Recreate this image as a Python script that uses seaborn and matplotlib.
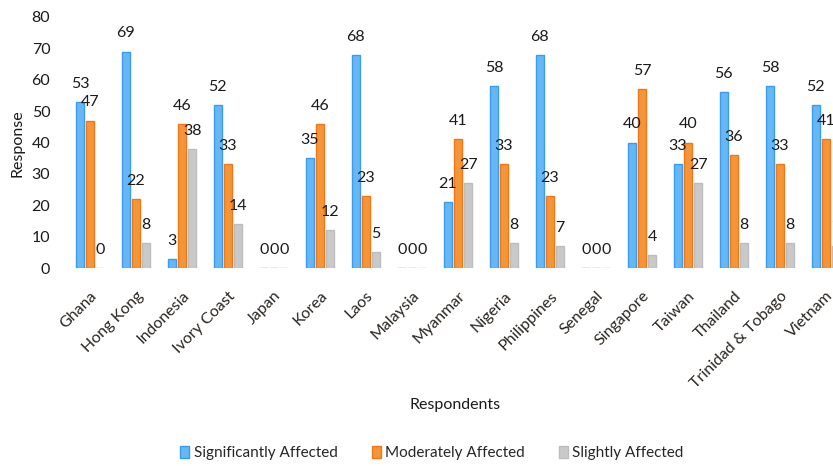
import numpy as np
import pandas as pd
import matplotlib
matplotlib.use("Agg")
import matplotlib.pyplot as plt
import seaborn as sns

countries = ["Ghana", "Hong Kong", "Indonesia", "Ivory Coast", "Japan", "Korea", "Laos",
             "Malaysia", "Myanmar", "Nigeria", "Philippines", "Senegal", "Singapore",
             "Taiwan", "Thailand", "Trinidad & Tobago", "Vietnam"]
significant = [53, 69, 3, 52, 0, 35, 68, 0, 21, 58, 68, 0, 40, 33, 56, 58, 52]
moderate = [47, 22, 46, 33, 0, 46, 23, 0, 41, 33, 23, 0, 57, 40, 36, 33, 41]
slight = [0, 8, 38, 14, 0, 12, 5, 0, 27, 8, 7, 0, 4, 27, 8, 8, 7]
series = ["Significantly Affected", "Moderately Affected", "Slightly Affected"]

df = pd.DataFrame({
    "Country": countries * 3,
    "Level": [series[0]] * len(countries) + [series[1]] * len(countries) + [series[2]] * len(countries),
    "Value": significant + moderate + slight,
})

fills = ["#66B8F5", "#F5953A", "#C9C9C9"]
edges = ["#3A9BEF", "#F07818", "#BDBDBD"]

sns.set_theme(style="white")
plt.rcParams["font.family"] = ["Lato", "DejaVu Sans"]

fig = plt.figure(figsize=(8.33, 4.66), dpi=100)
ax = fig.add_axes([67 / 833, 1 - 268 / 466, 782 / 833, (268 - 17) / 466])

sns.barplot(data=df, x="Country", y="Value", hue="Level", order=countries,
            hue_order=series, palette=fills, width=0.66, gap=0.2,
            saturation=1, legend=False, ax=ax)

# bar outlines and value labels above each bar
for container, ec in zip(ax.containers, edges):
    for bar in container:
        bar.set_edgecolor(ec)
        bar.set_linewidth(1.0)
        h = bar.get_height()
        ax.annotate(f"{h:.0f}", (bar.get_x() + bar.get_width() / 2, h),
                    xytext=(0, 13), textcoords="offset points",
                    ha="center", va="center", fontsize=11.5, color="#1a1a1a")

ax.set_ylim(0, 80)
ax.set_yticks(range(0, 81, 10))
ax.set_xlim(-0.5, len(countries) - 0.5)
for s in ax.spines.values():
    s.set_visible(False)
ax.tick_params(axis="y", length=0, pad=12, labelsize=11.5, labelcolor="#1a1a1a")
ax.tick_params(axis="x", length=0, pad=15, labelsize=11.5, labelcolor="#2a2520")
for lbl in ax.get_xticklabels():
    lbl.set_rotation(45)
    lbl.set_ha("right")
    lbl.set_rotation_mode("anchor")

ax.set_xlabel("")
ax.set_ylabel("")
fig.text(455 / 833, 1 - 405 / 466, "Respondents", ha="center", va="center",
         fontsize=11.5, color="#1a1a1a")
fig.text(18 / 833, 1 - 143 / 466, "Response", ha="center", va="center",
         rotation=90, fontsize=11.5, color="#1a1a1a")

handles = [plt.Rectangle((0, 0), 1, 1, facecolor=f, edgecolor=e, linewidth=1.0)
           for f, e in zip(fills, edges)]
fig.legend(handles, series, loc="center", bbox_to_anchor=(432 / 833, 1 - 453 / 466),
           ncol=3, frameon=False, fontsize=11, handlelength=0.6, handleheight=0.8,
           handletextpad=0.3, columnspacing=2.2)

fig.savefig("out.png", dpi=100)
